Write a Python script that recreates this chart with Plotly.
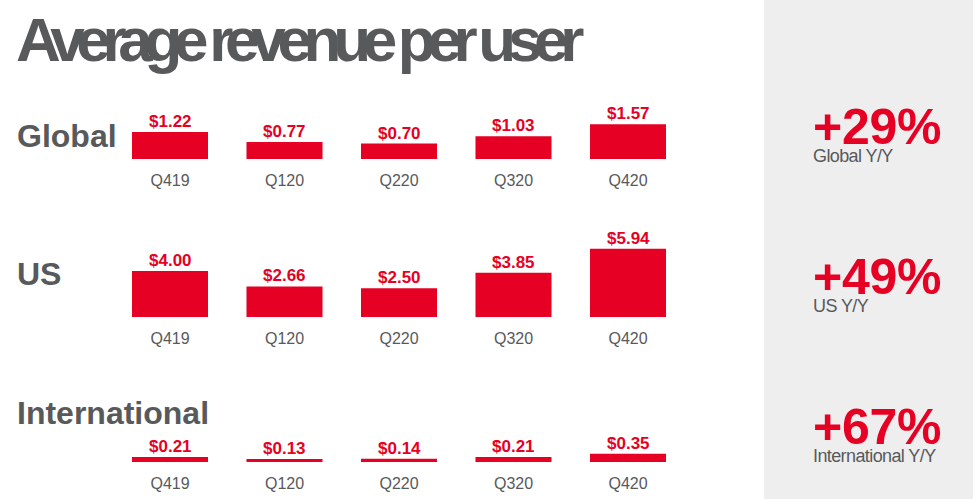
import plotly.graph_objects as go

W, H = 973, 499
RED = "#E60023"
GRAY = "#58595B"

quarters = ["Q419", "Q120", "Q220", "Q320", "Q420"]
global_arpu = [1.22, 0.77, 0.70, 1.03, 1.57]
us_arpu = [4.00, 2.66, 2.50, 3.85, 5.94]
intl_arpu = [0.21, 0.13, 0.14, 0.21, 0.35]

row_labels = ["Global", "US", "International"]
yoy_values = ["+29%", "+49%", "+67%"]
yoy_labels = ["Global Y/Y", "US Y/Y", "International Y/Y"]

title_text = "Average revenue per user"


def py(p):
    return 1 - p / H


def px(p):
    return p / W


rows = [
    # values, baseline px, px per $, height px
    (global_arpu, 159, 22.1, 60),
    (us_arpu, 317, 11.5, 80),
    (intl_arpu, 462, 23.5, 30),
]

fig = go.Figure()
layout = dict(
    width=W, height=H,
    margin=dict(l=0, r=0, t=0, b=0),
    paper_bgcolor="white", plot_bgcolor="rgba(0,0,0,0)",
    showlegend=False, bargap=0.336,
    font=dict(family="Liberation Sans, Arial, sans-serif", color=GRAY),
)

xdom = [px(112.75), px(685.25)]
for i, (vals, base, scale, hpx) in enumerate(rows):
    n = "" if i == 0 else str(i + 1)
    fig.add_trace(go.Bar(
        x=quarters, y=vals, xaxis="x" + n, yaxis="y" + n,
        marker=dict(color=RED, line=dict(width=0)),
        cliponaxis=False, hoverinfo="skip",
    ))
    for q, v in zip(quarters, vals):
        fig.add_annotation(
            x=q, y=v, xref="x" + n, yref="y" + n, xanchor="center", yanchor="bottom",
            yshift=-1, text=f"${v:.2f}", showarrow=False,
            font=dict(family="Liberation Sans, Arial, sans-serif", size=17,
                      color=RED, weight="bold"),
        )
    layout["xaxis" + n] = dict(
        domain=xdom, anchor="y" + n, type="category",
        showgrid=False, zeroline=False, showline=False, ticks="",
        tickfont=dict(size=16, color=GRAY), ticklabelstandoff=10,
        fixedrange=True,
    )
    layout["yaxis" + n] = dict(
        domain=[py(base), py(base - hpx)], anchor="x" + n,
        range=[0, hpx / scale], visible=False, fixedrange=True,
    )

fig.update_layout(**layout)

# right grey panel
fig.add_shape(type="rect", xref="paper", yref="paper", x0=px(764), x1=1,
              y0=0, y1=1, fillcolor="#EEEEEE", line=dict(width=0), layer="below")

# title
fig.add_annotation(
    x=px(14), y=py(40), xref="paper", yref="paper", xanchor="left", yanchor="middle",
    text=f"<span style='letter-spacing:-8.3px'>{title_text}</span>", showarrow=False,
    font=dict(family="Liberation Sans, Arial, sans-serif",
              size=62, color=GRAY, weight="bold"),
)

row_y = [135.5, 273.7, 412.7]
for lbl, yy in zip(row_labels, row_y):
    fig.add_annotation(
        x=px(15), y=py(yy), xref="paper", yref="paper", xanchor="left", yanchor="middle",
        text=lbl, showarrow=False,
        font=dict(family="Liberation Sans, Arial, sans-serif", size=32, color=GRAY,
                  weight="bold"),
    )

# Y/Y block: big percentage with its caption directly beneath (one text block)
block_top = [96.75, 246.75, 396.75]
for v, l, yt in zip(yoy_values, yoy_labels, block_top):
    txt = (
        f"<span style='font-size:50px;color:{RED};font-weight:bold;"
        f"letter-spacing:-0.3px'>{v}</span><br>"
        f"<span style='font-size:18px;letter-spacing:-0.6px'>{l}</span>"
    )
    fig.add_annotation(
        x=px(811), y=py(yt), xref="paper", yref="paper", xanchor="left", yanchor="top",
        align="left", text=txt, showarrow=False,
        font=dict(family="Liberation Sans, Arial, sans-serif", size=14, color=GRAY),
    )

fig.write_html(
    "out.html",
    config={"displayModeBar": False},
    post_script="document.body.style.margin='0';document.body.style.overflow='hidden';",
)
